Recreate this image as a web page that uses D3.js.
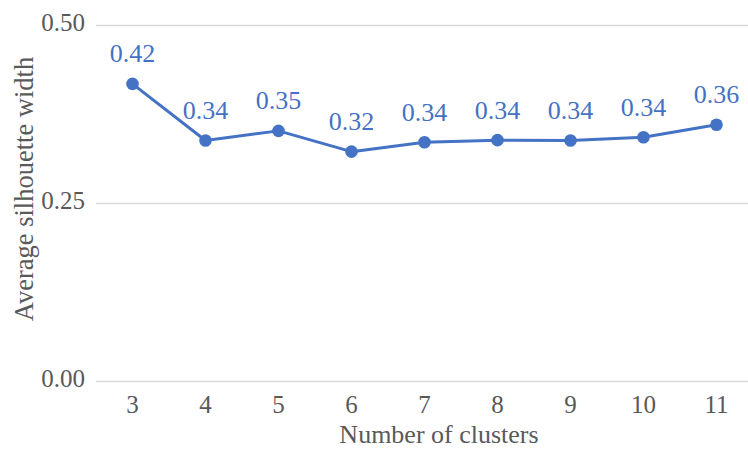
<!DOCTYPE html>
<html>
<head>
<meta charset="utf-8">
<script src="https://cdn.jsdelivr.net/npm/d3@7"></script>
<style>
  html, body { margin: 0; padding: 0; background: #fff; }
  svg { display: block; }
</style>
</head>
<body>
<svg id="chart" width="748" height="449" font-family="Liberation Serif, Tinos, Times New Roman, serif"></svg>
<script>
// Number of clusters tested and the average silhouette width for each
const clusters = ["3", "4", "5", "6", "7", "8", "9", "10", "11"];
const silhouette = [0.418, 0.3385, 0.352, 0.3228, 0.336, 0.339, 0.3385, 0.343, 0.3607];
const yTicks = [0, 0.25, 0.5];
const xTitle = "Number of clusters";
const yTitle = "Average silhouette width";

const svg = d3.select("#chart");
const serif = '"Liberation Serif", Tinos, "Times New Roman", serif';
const blue = "#4472C4";
const grey = "#595959";

// every label uses the same serif face
function label(sel, size, color) {
  return sel
    .attr("font-family", serif)
    .style("font-family", serif)
    .attr("font-size", size)
    .style("font-size", size + "px")
    .attr("fill", color);
}

const x = d3.scaleBand().domain(clusters).range([96, 753]);
const y = d3.scaleLinear().domain([0, 0.5]).range([381.5, 25.5]);
const cx = d => x(d) + x.bandwidth() / 2;

// horizontal gridlines
svg.selectAll("line.grid")
  .data(yTicks)
  .join("line")
  .attr("class", "grid")
  .attr("x1", 96).attr("x2", 748)
  .attr("y1", d => y(d)).attr("y2", d => y(d))
  .attr("stroke", "#d9d9d9").attr("stroke-width", 1.5);

// y axis labels
label(svg.selectAll("text.ytick")
  .data(yTicks)
  .join("text")
  .attr("class", "ytick")
  .attr("x", 85).attr("y", d => y(d) + 5.8)
  .attr("text-anchor", "end"), 25, grey)
  .text(d3.format(".2f"));

// x axis labels, placed with the band scale
label(svg.selectAll("text.xtick")
  .data(clusters)
  .join("text")
  .attr("class", "xtick")
  .attr("x", d => cx(d)).attr("y", y(0) + 31.8)
  .attr("text-anchor", "middle"), 25, grey)
  .text(d => d);

// axis titles
label(svg.append("text")
  .attr("x", 439).attr("y", 443)
  .attr("text-anchor", "middle"), 26, grey)
  .text(xTitle);

label(svg.append("text")
  .attr("x", 33).attr("y", 189)
  .attr("transform", "rotate(-90, 33, 189)")
  .attr("text-anchor", "middle"), 26.5, grey)
  .text(yTitle);

// series line
svg.append("path")
  .datum(clusters.map((c, i) => [c, silhouette[i]]))
  .attr("fill", "none")
  .attr("stroke", blue).attr("stroke-width", 3)
  .attr("stroke-linejoin", "round")
  .attr("d", d3.line().x(d => cx(d[0])).y(d => y(d[1])));

// markers
svg.selectAll("circle")
  .data(clusters)
  .join("circle")
  .attr("cx", d => cx(d))
  .attr("cy", (d, i) => y(silhouette[i]))
  .attr("r", 6.3)
  .attr("fill", blue);

// data labels
label(svg.selectAll("text.value")
  .data(clusters)
  .join("text")
  .attr("class", "value")
  .attr("x", d => cx(d))
  .attr("y", (d, i) => y(silhouette[i]) - 21.4)
  .attr("text-anchor", "middle"), 26, blue)
  .text((d, i) => silhouette[i].toFixed(2));
</script>
</body>
</html>
